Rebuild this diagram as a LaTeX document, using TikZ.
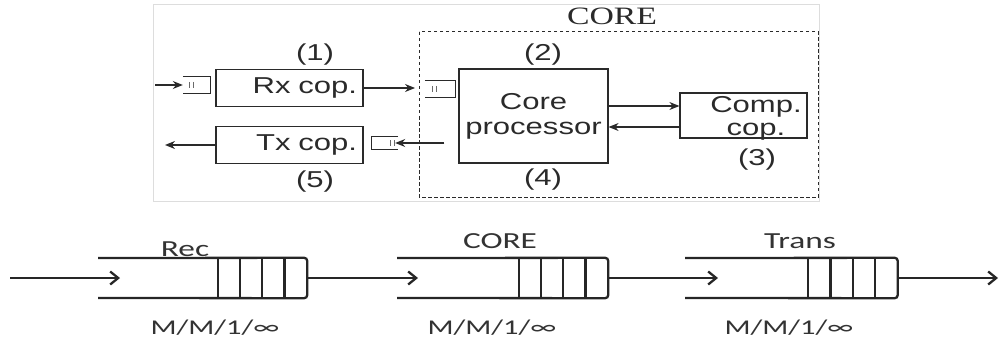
\documentclass[tikz,border=0pt]{standalone}
\usepackage{fontspec}
\usetikzlibrary{arrows.meta,calc}
\newfontfamily\topfont[FakeStretch=1.35]{Liberation Sans}
\newfontfamily\ttlfont[FakeStretch=1.35]{Liberation Serif}
\newfontfamily\botfont[FakeStretch=1.45]{Carlito}
\definecolor{ink}{HTML}{2A2A2A}
\definecolor{frame}{HTML}{DDDDDD}
\tikzset{
  boxs/.style={draw=ink, line width=1.2pt, inner sep=0pt, font=\topfont\fontsize{23}{25}\selectfont, text=ink},
  lbl/.style={inner sep=0pt, font=\topfont\fontsize{23}{25}\selectfont, text=ink},
  tarr/.style={draw=ink, line width=1.2pt, -{Stealth[length=10pt,width=8pt]}},
  qicon/.style={minimum width=27pt, minimum height=16pt, inner sep=0pt},
  qline/.style={draw=black!85, line width=2.3pt},
  barr/.style={draw=black!85, line width=2.3pt, -{Straight Barb[length=8pt,width=13pt,line width=2.3pt]}},
  blbl/.style={inner sep=0pt, font=\botfont\fontsize{23}{25}\selectfont, text=black!80},
  mlbl/.style={inner sep=0pt, font=\botfont\fontsize{21}{23}\selectfont, text=black!80},
}
\begin{document}
\begin{tikzpicture}[x=1pt,y=-1pt]
\useasboundingbox (0,0) rectangle (1000,342);
% outer frame
\draw[frame, line width=1pt] (153,5) rectangle (819,201);
% dashed CORE region
\draw[ink, line width=1pt, dash pattern=on 3.5pt off 2.5pt] (419,32) rectangle (818,197);
\node[inner sep=0pt, font=\ttlfont\fontsize{25}{27}\selectfont, text=ink] (ttl) at (612,16) {CORE};

% boxes
\node[boxs, minimum width=147pt, minimum height=37pt, text width=135pt, align=right] (rx) at (289.5,88) {Rx cop.};
\node[boxs, minimum width=147pt, minimum height=37pt, text width=135pt, align=right] (tx) at (289.5,145) {Tx cop.};
\node[boxs, minimum width=149pt, minimum height=94pt, align=center] (core) at (533.5,116) {Core\\processor};
\node[boxs, minimum width=127pt, minimum height=45pt] (comp) at (743.5,115.5) {};
\node[lbl, align=center] (comptxt) at (756,118) {Comp.\\[-2pt]cop.};

% number labels
\node[lbl] (n1) at (315,55) {(1)};
\node[lbl] (n2) at (543,55) {(2)};
\node[lbl] (n3) at (757,160) {(3)};
\node[lbl] (n4) at (543,180) {(4)};
\node[lbl] (n5) at (315,182) {(5)};

% small queue icons
\node[qicon] (qi1) at (196.5,85) {};
\node[qicon, minimum width=30pt] (qi2) at (440,89) {};
\node[qicon, minimum width=26pt, minimum height=12pt] (qi3) at (385,143) {};
\draw[ink, line width=1pt] (qi1.north west) -- (qi1.north east) -- (qi1.south east) -- (qi1.south west);
\draw[ink, line width=1pt] (qi2.north west) -- (qi2.north east) -- (qi2.south east) -- (qi2.south west);
\draw[ink, line width=1pt] (qi3.north east) -- (qi3.north west) -- (qi3.south west) -- (qi3.south east);
\foreach \q/\d in {qi1/-7, qi2/-8, qi3/5} {
  \draw[ink!70, line width=0.7pt] ($(\q.center)+(\d,-3)$) -- ++(0,6);
  \draw[ink!70, line width=0.7pt] ($(\q.center)+(\d+4,-3)$) -- ++(0,6);
}

% top connectors
\coordinate (inA) at (155,85);
\coordinate (outA) at (165,145);
\coordinate (rxEnd) at (415,88);
\draw[tarr] (inA) -- (qi1.west);
\draw[tarr] (rx.east) -- (rxEnd);
\draw[tarr] ($(core.west |- qi3)+(-14,0)$) -- ($(qi3.east)+(-3,0)$);
\draw[tarr] (tx.west) -- (outA);
\draw[tarr] (core.east |- 0,106) -- (comp.west |- 0,106);
\draw[tarr] (comp.west |- 0,127) -- (core.east |- 0,127);

% bottom queues
\foreach \n/\tx/\bx in {qa/98/262.5, qb/397/563.5, qc/685/853} {
  \node[minimum width=89pt, minimum height=40pt, inner sep=0pt] (\n) at (\bx,278) {};
  \coordinate (\n t) at (\tx,258);
  \coordinate (\n b) at (\tx,298);
  \draw[qline, rounded corners=3pt] (\n t) -- (\n.north east) -- (\n.south east) -- (\n b);
  \foreach \i in {0,1,2,3}
    \draw[qline] ($(\n.north west)+(\i*22.25,0)$) -- ($(\n.south west)+(\i*22.25,0)$);
}
\coordinate (bin) at (10,278);
\coordinate (bout) at (998,278);
\draw[barr] (bin) -- (120,278);
\draw[barr] (qa.east) -- (418,278);
\draw[barr] (qb.east) -- (718,278);
\draw[barr] (qc.east) -- (bout);

\node[blbl, anchor=base] (lrec) at (185,256) {Rec};
\node[blbl, anchor=base] (lcore) at (500,248) {CORE};
\node[blbl, anchor=base] (ltrans) at (800,248) {Trans};
\node[mlbl] (m1) at (215,328) {M/M/1/∞};
\node[mlbl] (m2) at (492,328) {M/M/1/∞};
\node[mlbl] (m3) at (789,328) {M/M/1/∞};
\end{tikzpicture}
\end{document}
